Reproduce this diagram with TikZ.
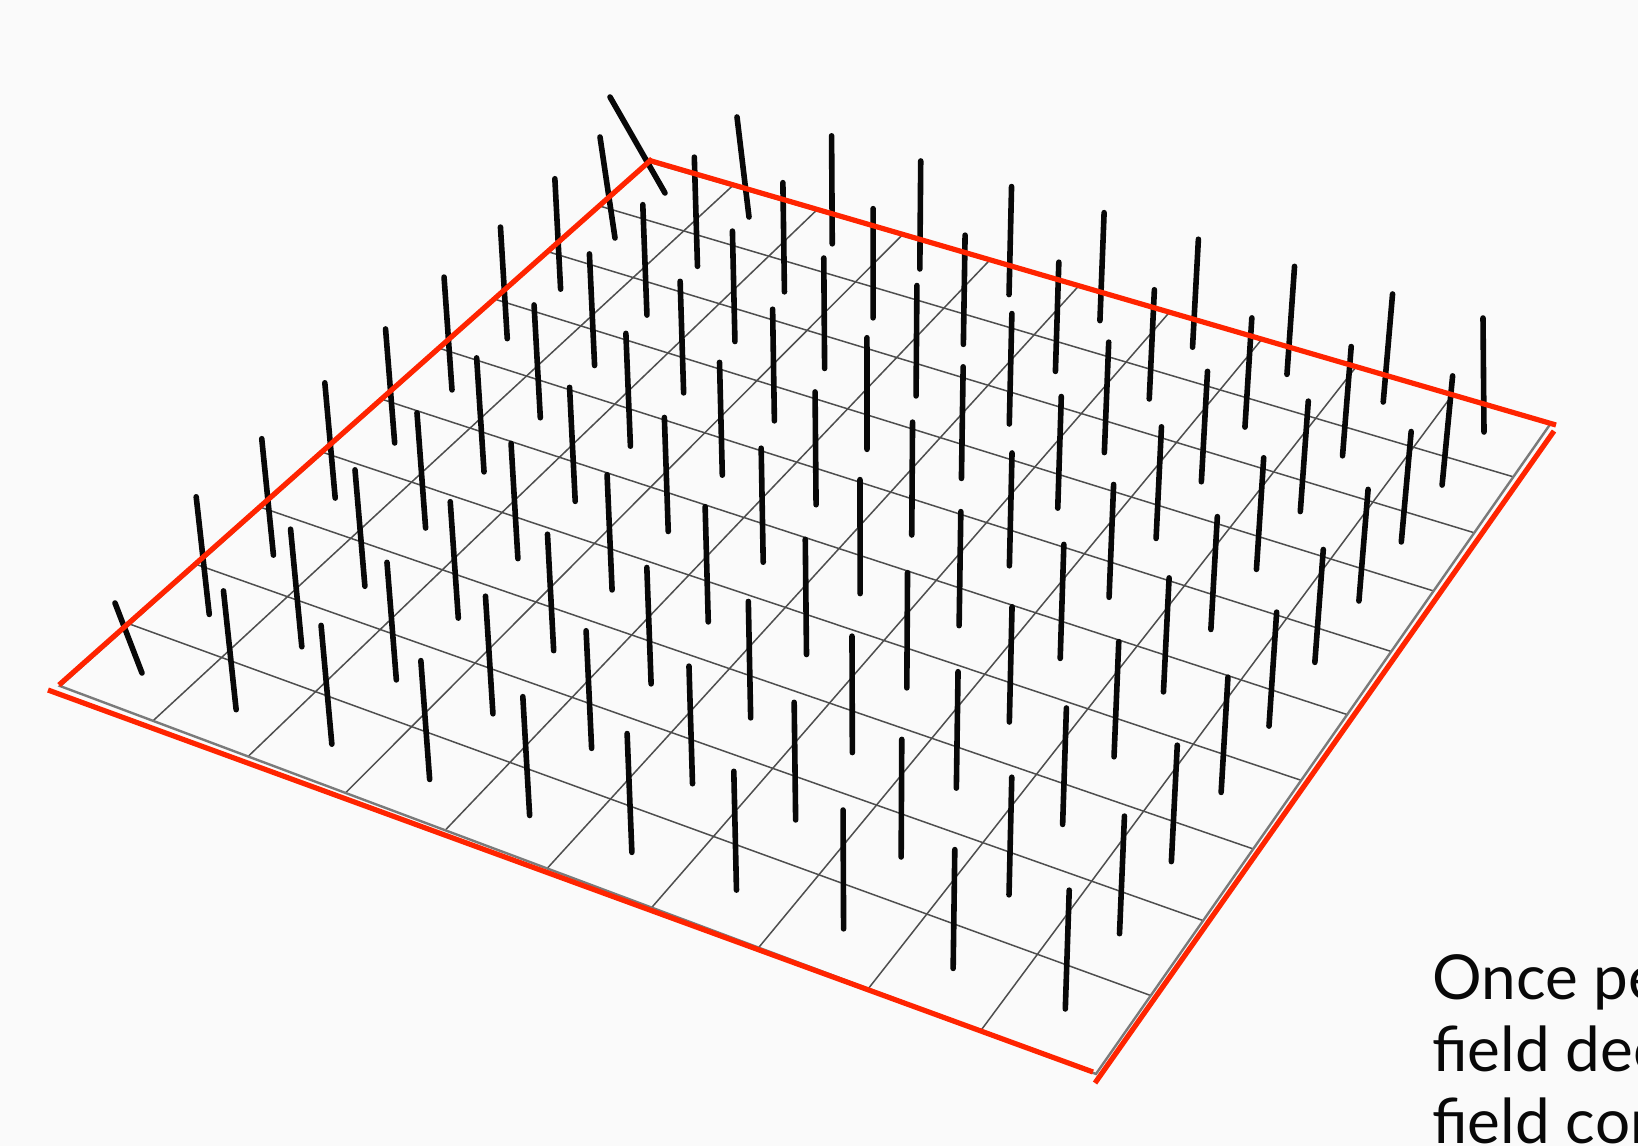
\documentclass[tikz,border=0pt]{standalone}
\usepackage{fontspec}
\usepackage{tikz}
\newfontfamily\notefont{Lato}
\definecolor{paper}{HTML}{FAFAFA}
\definecolor{gridgray}{HTML}{4E4E4E}
\definecolor{rimgray}{HTML}{7A7A7A}
\definecolor{edgered}{HTML}{FF2400}
\definecolor{ink}{HTML}{080808}
\tikzset{
  gridline/.style={gridgray, line width=0.75pt},
  rim/.style={rimgray, line width=1.2pt},
  redge/.style={edgered, line width=2.6pt},
  stick/.style={ink, line width=2.8pt, line cap=round},
  note/.style={font=\notefont\fontsize{31}{36}\selectfont, text=ink, anchor=base west, inner sep=0pt},
}

\begin{document}
\begin{tikzpicture}[x=0.5pt,y=-0.5pt]
  \useasboundingbox (0,0) rectangle (1638,1146);
  \fill[paper] (0,0) rectangle (1638,1146);

  \foreach \i in {0,...,10} {
    \foreach \j in {0,...,10} {
      \pgfmathsetmacro\den{1-0.11228*\i/10+0.20653*\j/10}
      \pgfmathsetmacro\px{(91.294*\i+72.424*\j+60)/\den}
      \pgfmathsetmacro\py{(26.741*\i-49.054*\j+686)/\den}
      \coordinate (p-\i-\j) at (\px,\py);
    }
  }

  \foreach \k in {1,...,9} {
    \draw[gridline] (p-\k-0) -- (p-\k-10);
    \draw[gridline] (p-0-\k) -- (p-10-\k);
  }
  \draw[rim] (p-0-0) -- (p-10-0) -- (p-10-10) -- (p-0-10) -- cycle;

  \foreach \i in {0,...,9} {
    \foreach \j in {1,...,10} {
      \pgfmathtruncatemacro\perturbed{(\i==0)*((\j==1)+(\j==9)+(\j==10))+(\i==1)*(\j==10)+(\i==9)*(\j==10)}
      \ifnum\perturbed=0
        \pgfmathsetmacro\u{\i/10}
        \pgfmathsetmacro\v{\j/10}
        \pgfmathsetmacro\den{1-0.11228*\u+0.20653*\v}
        \pgfmathsetmacro\sx{(912.94*\u+724.24*\v+60)/\den+5+5*\v+27*\u}
        \pgfmathsetmacro\sy{(267.41*\u-490.54*\v+686)/\den-6-15*\v+3*\u}
        \pgfmathsetmacro\sl{120-12*\v}
        \pgfmathsetmacro\st{(\sx-870)/6000*\sl}
        \pgfmathsetmacro\tx{\sx+\st/2}
        \pgfmathsetmacro\bx{\sx-\st/2}
        \pgfmathsetmacro\ty{\sy-\sl/2}
        \pgfmathsetmacro\by{\sy+\sl/2}
        \draw[stick] (\tx,\ty) -- (\bx,\by);
      \fi
    }
  }
  \draw[stick] (115,603) -- (142,673);
  \draw[stick] (600,137) -- (615,238);
  \draw[stick] (610,97) -- (665,193);
  \draw[stick] (737,117) -- (749,217);
  \draw[stick] (1483,318) -- (1484,432);

  \draw[redge] (48,690) -- (1093,1072);
  \draw[redge] (59,685) -- (652,159);
  \draw[redge] (648,160) -- (1556,425);
  \draw[redge] (1554,431) -- (1095,1083);

  \node[note] (line1) at (1432,999) {Once pe};
  \node[note] (line2) at (1432,1071) {field dec};
  \node[note] (line3) at (1432,1143) {field cor};
\end{tikzpicture}
\end{document}
